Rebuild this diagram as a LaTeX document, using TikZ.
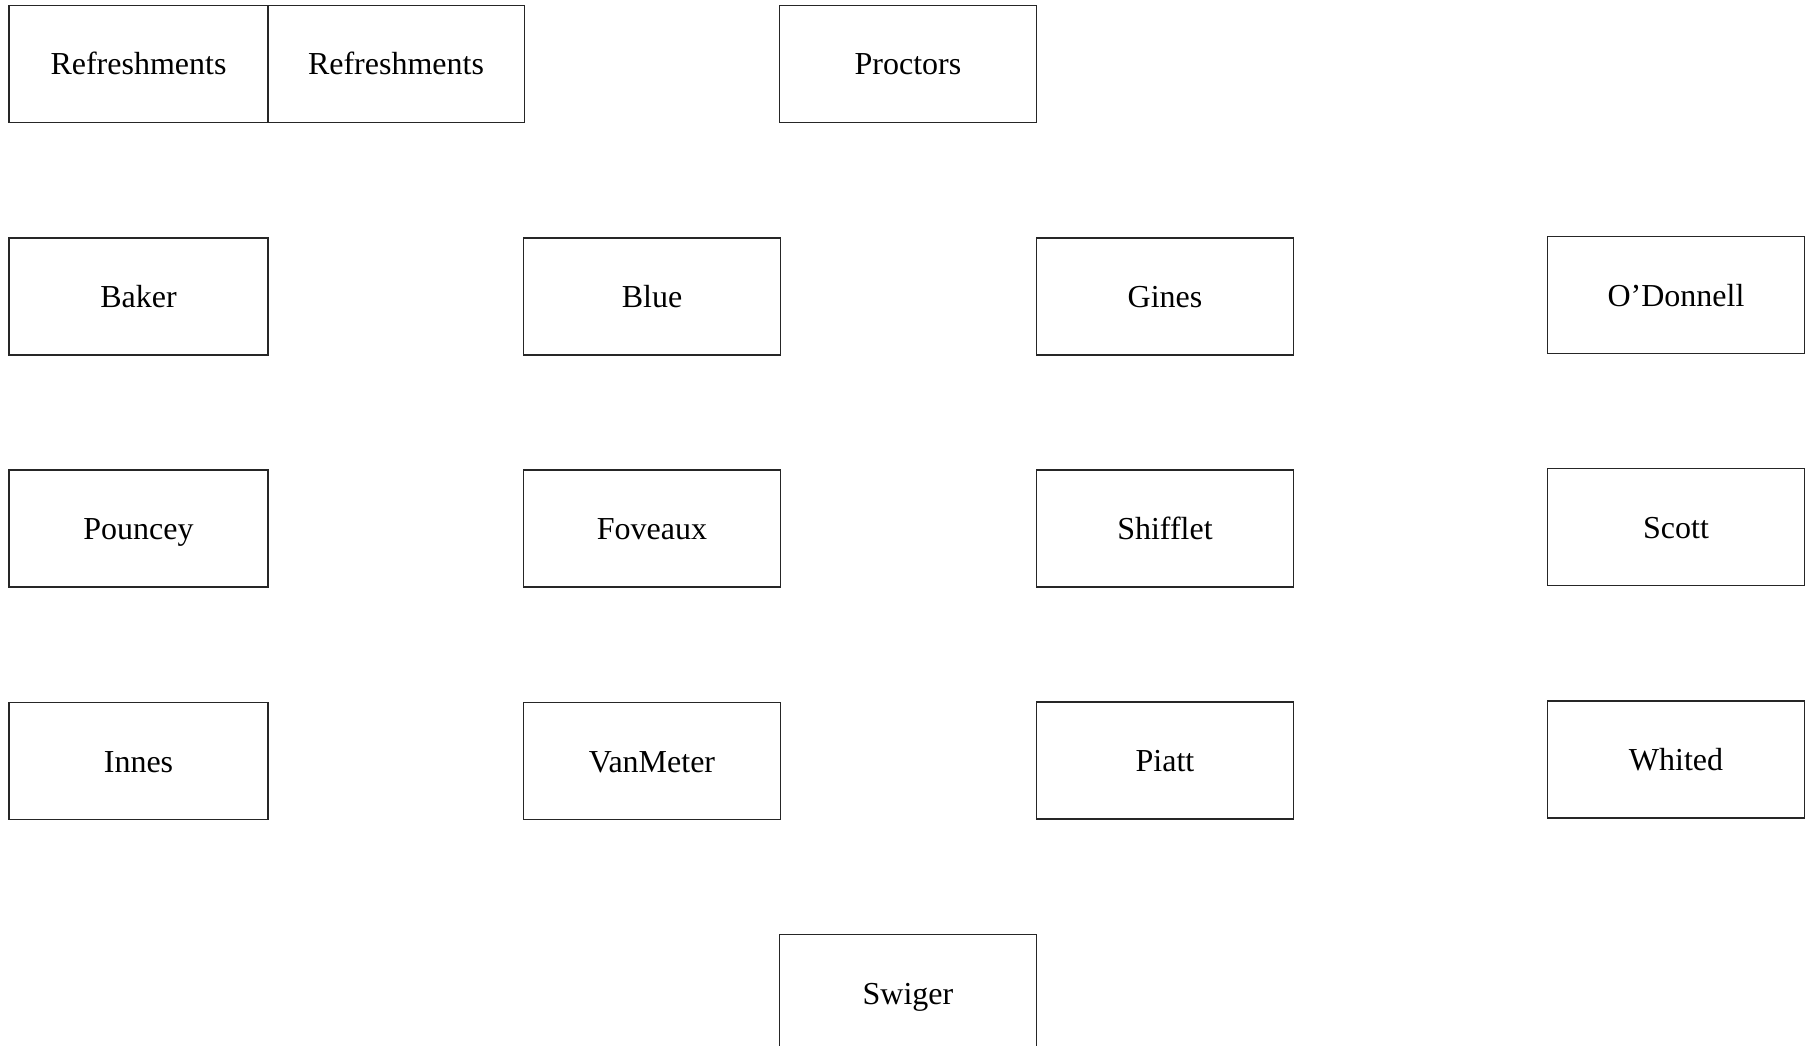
\documentclass[tikz,border=0pt]{standalone}
\usepackage{fontspec}
\setmainfont{Liberation Serif}
\begin{document}
\begin{tikzpicture}[x=1pt,y=-1pt,
  seat/.style={draw=black!85, line width=1.3pt, rectangle, inner sep=0pt,
    minimum width=257pt, minimum height=117pt,
    text height=22pt, text depth=0pt,
    font=\fontsize{32}{38}\selectfont},
  wideseat/.style={seat, minimum width=259pt}]
  \useasboundingbox (0,0) rectangle (1805,1046);
  \begin{scope}
    \clip (0,0) rectangle (1805,1046);
    % top row
    \node[wideseat] (ref1) at (138.5,64) {Refreshments};
    \node[seat] (ref2) at (396,64) {Refreshments};
    \node[seat] (proctors) at (908,64) {Proctors};
    % second row
    \node[wideseat] (baker) at (138.5,296.5) {Baker};
    \node[seat] (blue) at (652,296.5) {Blue};
    \node[seat] (gines) at (1165,296.5) {Gines};
    \node[seat] (odonnell) at (1676,295) {O’Donnell};
    % third row
    \node[wideseat] (pouncey) at (138.5,528.5) {Pouncey};
    \node[seat] (foveaux) at (652,528.5) {Foveaux};
    \node[seat] (shifflet) at (1165,528.5) {Shifflet};
    \node[seat] (scott) at (1676,527) {Scott};
    % fourth row
    \node[wideseat] (innes) at (138.5,761) {Innes};
    \node[seat] (vanmeter) at (652,761) {VanMeter};
    \node[seat] (piatt) at (1165,760.5) {Piatt};
    \node[seat] (whited) at (1676,759.5) {Whited};
    % bottom row
    \node[seat] (swiger) at (908,993) {Swiger};
  \end{scope}
\end{tikzpicture}
\end{document}
